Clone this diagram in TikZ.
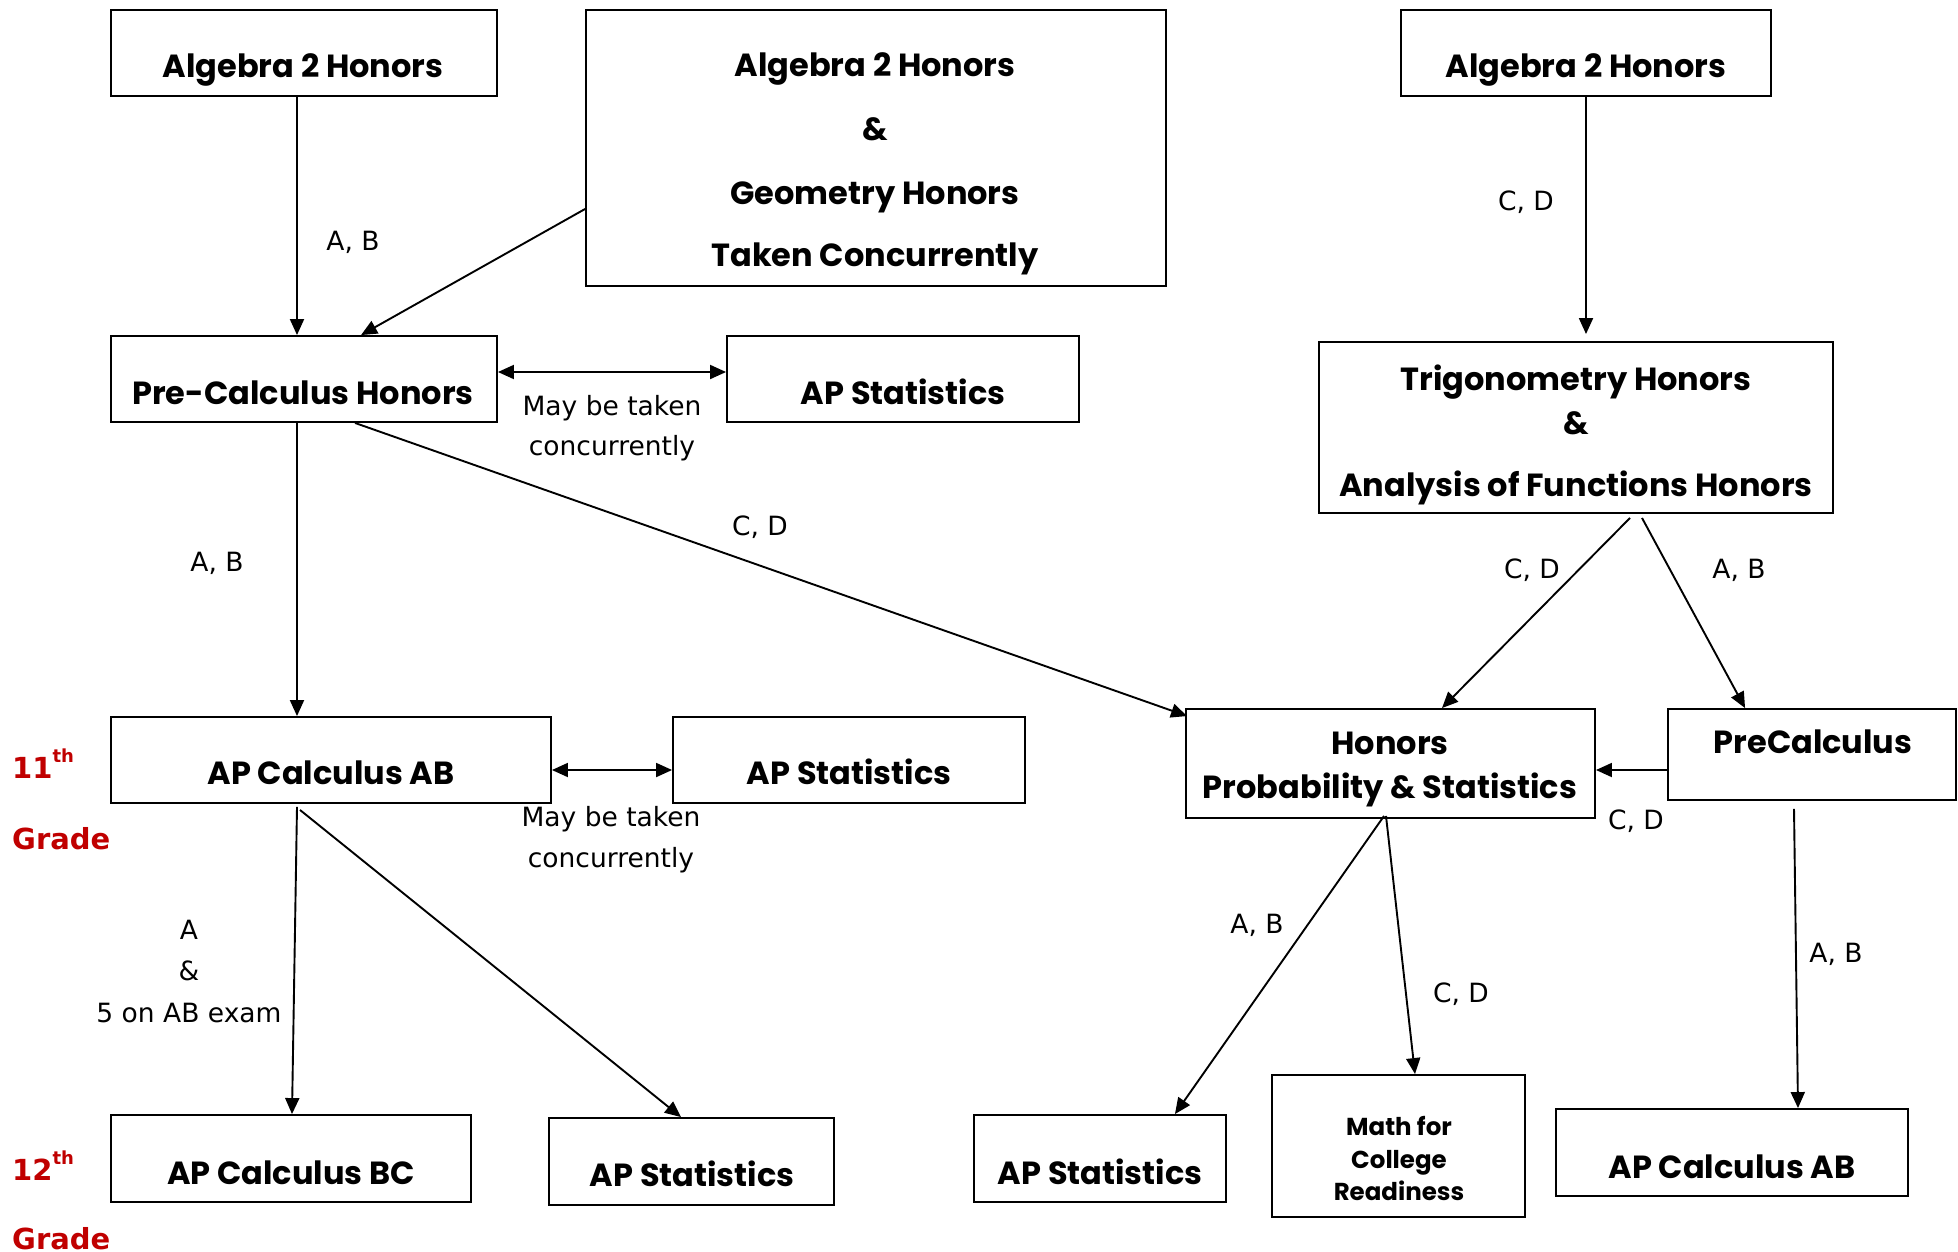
\documentclass[tikz,border=0pt]{standalone}
\usepackage{fontspec}
\setmainfont{Poppins}
\newfontfamily\labfont{DejaVu Sans}
\usetikzlibrary{arrows.meta,calc}
\definecolor{gradered}{HTML}{C00000}
\begin{document}
\begin{tikzpicture}[x=1pt,y=-1pt,
 box/.style={draw,line width=1.9pt,inner sep=0pt},
 bt/.style={font=\fontsize{32}{36}\selectfont\bfseries,anchor=base,inner sep=0pt},
 st/.style={font=\fontsize{24.5}{28}\selectfont\bfseries,anchor=base,inner sep=0pt},
 lab/.style={font=\labfont\fontsize{26.5}{30}\selectfont,anchor=base,inner sep=0pt},
 grade/.style={font=\labfont\bfseries\fontsize{29}{33}\selectfont,text=gradered,anchor=base west,inner sep=0pt},
 arr/.style={line width=1.9pt,-{Triangle[length=16pt,width=14pt]}},
 darr/.style={line width=1.9pt,{Triangle[length=16pt,width=14pt]}-{Triangle[length=16pt,width=14pt]}}]
\useasboundingbox[fill=white] (0,0) rectangle (1958,1251);
% boxes
\node[box,minimum width=386pt,minimum height=86pt] (alg2L) at (304,53) {};
\node[box,minimum width=580pt,minimum height=276pt] (alg2geo) at (876,148) {};
\node[box,minimum width=370pt,minimum height=86pt] (alg2R) at (1586,53) {};
\node[box,minimum width=386pt,minimum height=86pt] (pch) at (304,379) {};
\node[box,minimum width=352pt,minimum height=86pt] (aps1) at (903,379) {};
\node[box,minimum width=514pt,minimum height=171pt] (trig) at (1576,427.5) {};
\node[box,minimum width=440pt,minimum height=86pt] (abL) at (331,760) {};
\node[box,minimum width=352pt,minimum height=86pt] (aps2) at (849,760) {};
\node[box,minimum width=409pt,minimum height=109pt] (hps) at (1390.5,763.5) {};
\node[box,minimum width=288pt,minimum height=91pt] (prec) at (1812,754.5) {};
\node[box,minimum width=360pt,minimum height=87pt] (bc) at (291,1158.5) {};
\node[box,minimum width=285pt,minimum height=87pt] (aps3) at (691.5,1161.5) {};
\node[box,minimum width=252pt,minimum height=87pt] (aps4) at (1100,1158.5) {};
\node[box,minimum width=253pt,minimum height=142pt] (mcr) at (1398.5,1146) {};
\node[box,minimum width=352pt,minimum height=87pt] (abR) at (1732,1152.5) {};
% box texts
\node[bt] (t1) at (303,77) {Algebra 2 Honors};
\node[bt] (t2a) at (875,76) {Algebra 2 Honors};
\node[bt] (t2b) at (875,140) {\&};
\node[bt] (t2c) at (875,204) {Geometry Honors};
\node[bt] (t2d) at (875,266) {Taken Concurrently};
\node[bt] (t3) at (1586,77) {Algebra 2 Honors};
\node[bt] (t4) at (303,404) {Pre-Calculus Honors};
\node[bt] (t5) at (903,404) {AP Statistics};
\node[bt] (t6a) at (1576,390) {Trigonometry Honors};
\node[bt] (t6b) at (1576,434) {\&};
\node[bt] (t6c) at (1576,496) {Analysis of Functions Honors};
\node[bt] (t7) at (331,784) {AP Calculus AB};
\node[bt] (t8) at (849,784) {AP Statistics};
\node[bt] (t9a) at (1390,754) {Honors};
\node[bt] (t9b) at (1390,798) {Probability \& Statistics};
\node[bt] (t10) at (1813,753) {PreCalculus};
\node[bt] (t11) at (291,1184) {AP Calculus BC};
\node[bt] (t12) at (692,1186) {AP Statistics};
\node[bt] (t13) at (1100,1184) {AP Statistics};
\node[st] (t14a) at (1399,1135) {Math for};
\node[st] (t14b) at (1399,1168) {College};
\node[st] (t14c) at (1399,1200) {Readiness};
\node[bt] (t15) at (1732,1178) {AP Calculus AB};
% grade labels
\node[grade] (g11) at (12,778) {11\raisebox{0.55em}{\fontsize{18}{20}\selectfont th}};
\node[grade] (g11b) at (12,849) {Grade};
\node[grade] (g12) at (12,1180) {12\raisebox{0.55em}{\fontsize{18}{20}\selectfont th}};
\node[grade] (g12b) at (12,1249) {Grade};
% connectors
\draw[arr] ([xshift=-7pt]alg2L.south) -- ([xshift=-7pt]pch.north);
\draw[arr] ($(alg2geo.west)+(0,61)$) -- ($(pch.north west)+(251,0)$);
\draw[darr] ($(pch.east)+(0,-7)$) -- ($(aps1.west)+(0,-7)$);
\draw[arr] ([xshift=-7pt]pch.south) -- ([xshift=-34pt]abL.north);
\draw[arr] ($(pch.south west)+(245,0)$) -- ($(hps.north west)+(2,8)$);
\draw[arr] (alg2R.south) -- ($(trig.north)+(10,-7)$);
\draw[arr] ($(trig.south)+(54,4)$) -- ($(hps.north)+(51.5,0)$);
\draw[arr] ($(trig.south)+(66,4)$) -- ($(prec.north west)+(78,0)$);
\draw[arr] ($(prec.west)+(0,15.5)$) -- ($(hps.east)+(0,6.5)$);
\draw[darr] ($(abL.east)+(0,10)$) -- ($(aps2.west)+(0,10)$);
\draw[arr] ($(abL.south)+(-34,3)$) -- ($(bc.north)+(1,0)$);
\draw[arr] ($(abL.south)+(-31,6)$) -- ($(aps3.north)+(-10.5,0)$);
\draw[arr] ($(hps.south)+(-6.5,-3)$) -- ($(aps4.north east)+(-52,0)$);
\draw[arr] ($(hps.south)+(-4.5,-3)$) -- ($(mcr.north)+(16.5,0)$);
\draw[arr] ($(prec.south)+(-18,8)$) -- ($(abR.north)+(66,0)$);
% connector labels
\node[lab] (l1) at (353,250) {A, B};
\node[lab] (l2a) at (612,415) {May be taken};
\node[lab] (l2b) at (612,455) {concurrently};
\node[lab] (l3) at (217,571) {A, B};
\node[lab] (l4) at (760,535) {C, D};
\node[lab] (l5) at (1526,210) {C, D};
\node[lab] (l6) at (1532,578) {C, D};
\node[lab] (l7) at (1739,578) {A, B};
\node[lab] (l8) at (1636,829) {C, D};
\node[lab] (l9a) at (611,826) {May be taken};
\node[lab] (l9b) at (611,867) {concurrently};
\node[lab] (l10a) at (189,939) {A};
\node[lab] (l10b) at (189,980) {\&};
\node[lab] (l10c) at (189,1022) {5 on AB exam};
\node[lab] (l11) at (1257,933) {A, B};
\node[lab] (l12) at (1461,1002) {C, D};
\node[lab] (l13) at (1836,962) {A, B};
\end{tikzpicture}
\end{document}
